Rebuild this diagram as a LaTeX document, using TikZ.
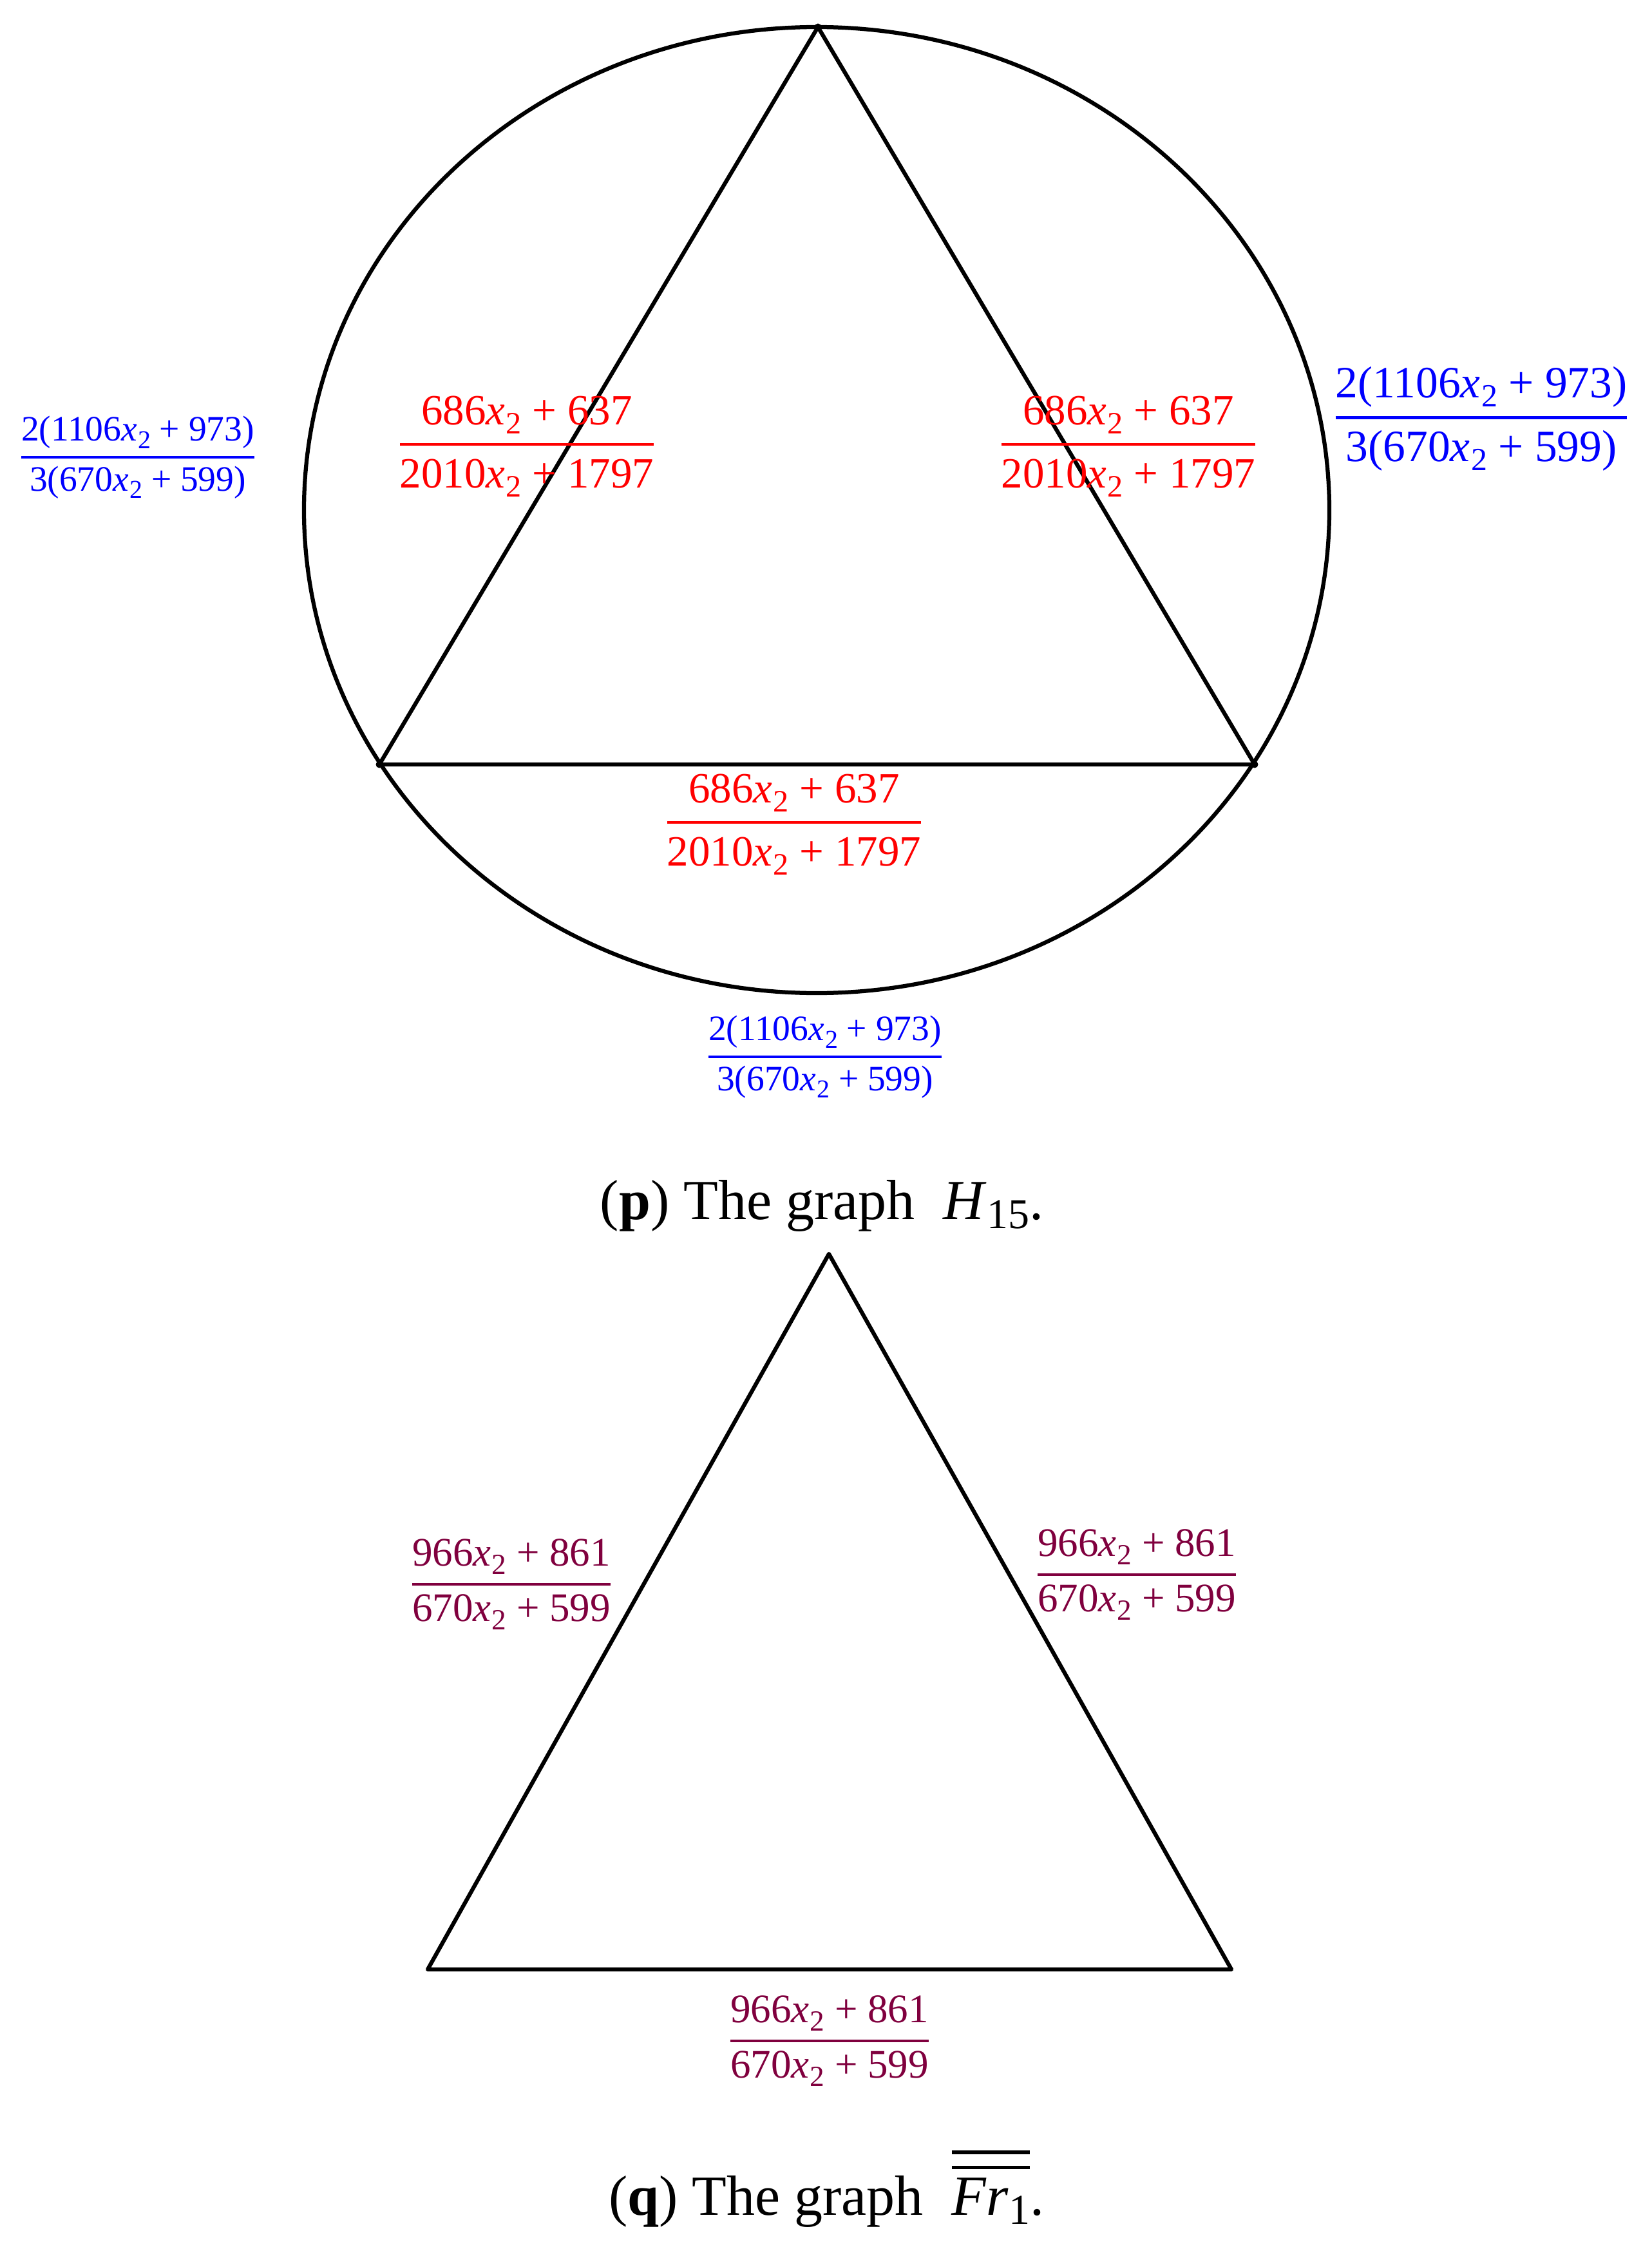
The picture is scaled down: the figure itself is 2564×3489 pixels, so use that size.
\documentclass[tikz,border=0pt]{standalone}
\usepackage{fontspec}
\setmainfont{Liberation Serif}
\usepackage{amsmath}
\definecolor{lblred}{RGB}{255,0,0}
\definecolor{lblblue}{RGB}{0,0,255}
\definecolor{lblmaroon}{RGB}{128,0,62}
\newcommand\xtwo{\textit{x}\kern0.02em\raisebox{-0.45ex}{\scalebox{0.72}{2}}}
\newcommand\pls{\ +\ }
\newcommand\fr[2]{$\genfrac{}{}{0.07em}{0}{\mbox{#1}}{\mbox{#2}}$}
\newcommand\dblbar[1]{\vbox{\hrule height 1.1pt \kern 3.6pt \hrule height 1.1pt \kern 2.6pt \hbox{#1}}}
\tikzset{
  edge/.style={line width=1.25pt, line join=round},
  redlbl/.style={text=lblred, font=\fontsize{13.4}{16}\selectfont, inner sep=0pt},
  bluebig/.style={text=lblblue, font=\fontsize{13.9}{17}\selectfont, inner sep=0pt},
  bluesmall/.style={text=lblblue, font=\fontsize{11.1}{13}\selectfont, inner sep=0pt},
  marlbl/.style={text=lblmaroon, font=\fontsize{12.6}{15}\selectfont, inner sep=0pt},
  caption/.style={font=\fontsize{17.6}{21}\selectfont, inner sep=0pt, anchor=base},
  dot/.style={circle, fill=black, inner sep=0pt, minimum size=2.2pt}
}
\begin{document}
\begin{tikzpicture}[x=0.2pt, y=-0.2pt]
\useasboundingbox (0,0) rectangle (2564,3489);
% ---- graph H15 ----
\coordinate (c) at (1268,792);
\coordinate (a) at (1270,42);
\coordinate (b) at (589,1187);
\coordinate (d) at (1948,1187);
\draw[edge] (c) ellipse [x radius=159.2pt, y radius=150pt];
\draw[edge] (a) -- (b) -- (d) -- cycle;
\node[dot] (va) at (a) {};
\node[dot] (vb) at (b) {};
\node[dot] (vd) at (d) {};
\node[redlbl] (r1) at (818,693) {\fr{686\xtwo\pls637}{2010\xtwo\pls1797}};
\node[redlbl] (r2) at (1752,693) {\fr{686\xtwo\pls637}{2010\xtwo\pls1797}};
\node[redlbl] (r3) at (1233,1280) {\fr{686\xtwo\pls637}{2010\xtwo\pls1797}};
\node[bluesmall] (bl1) at (214,710) {\fr{2(1106\xtwo\pls973)}{3(670\xtwo\pls599)}};
\node[bluebig] (bl2) at (2300,650) {\fr{2(1106\xtwo\pls973)}{3(670\xtwo\pls599)}};
\node[bluesmall] (bl3) at (1281,1641) {\fr{2(1106\xtwo\pls973)}{3(670\xtwo\pls599)}};
\node[caption] (capp) at (1276,1893) {(\textbf{p}) The graph \ \textit{H}\raisebox{-0.35ex}{\scalebox{0.75}{15}}.};
% ---- graph Fr1 ----
\coordinate (p) at (1287,1947);
\coordinate (q) at (664,3058);
\coordinate (s) at (1912,3058);
\draw[edge] (p) -- (q) -- (s) -- cycle;
\node[marlbl] (m1) at (794,2460) {\fr{966\xtwo\pls861}{670\xtwo\pls599}};
\node[marlbl] (m2) at (1765,2445) {\fr{966\xtwo\pls861}{670\xtwo\pls599}};
\node[marlbl] (m3) at (1288,3169) {\fr{966\xtwo\pls861}{670\xtwo\pls599}};
\node[caption] (capq) at (1283,3439) {(\textbf{q}) The graph \ \dblbar{\textit{Fr}\raisebox{-0.35ex}{\scalebox{0.75}{1}}}.};
\end{tikzpicture}
\end{document}
